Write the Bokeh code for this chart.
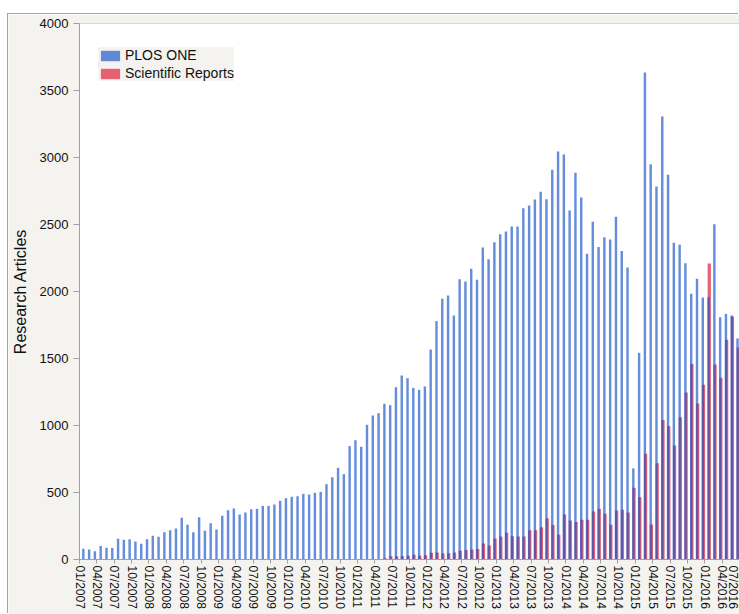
from bokeh.plotting import figure
from bokeh.models import Range1d, FixedTicker, Legend, LegendItem, Span, Spacer, ColumnDataSource
from bokeh.layouts import column, row
from bokeh.transform import dodge
from bokeh.embed import file_html
from bokeh.resources import INLINE

# Monthly research articles, 01/2007 .. 06/2016
plos_one = [80, 75, 62, 100, 87, 85, 154, 147, 152, 134, 117, 152,
            177, 169, 204, 219, 231, 311, 259, 204, 316, 214, 271, 224,
            326, 368, 381, 336, 351, 375, 378, 400, 400, 410, 438, 458,
            468, 472, 490, 485, 498, 505, 562, 614, 684, 637, 846, 890,
            841, 1005, 1075, 1092, 1162, 1152, 1286, 1373, 1353, 1281, 1266, 1291,
            1567, 1779, 1945, 1970, 1821, 2092, 2075, 2169, 2087, 2328, 2241, 2368,
            2428, 2448, 2485, 2485, 2622, 2642, 2687, 2744, 2689, 2908, 3045, 3022,
            2604, 2886, 2701, 2281, 2520, 2333, 2405, 2388, 2557, 2303, 2179, 680,
            1542, 3634, 2950, 2784, 3306, 2871, 2363, 2348, 2211, 1983, 2095, 1955,
            1958, 2502, 1808, 1833, 1821, 1650]
sci_reports = [0] * 52 + [10, 25, 25, 25, 28, 35, 28, 32,
               50, 52, 45, 47, 52, 65, 70, 75, 78, 119, 105, 157,
               172, 199, 174, 172, 172, 219, 219, 241, 308, 258, 184, 336,
               291, 279, 296, 296, 358, 378, 341, 259, 366, 371, 351, 535,
               465, 789, 261, 719, 1042, 995, 851, 1062, 1246, 1460, 1164, 1304,
               2209, 1455, 1356, 1640, 1813, 1582]

start_year = 2007
month_labels = ["%02d/%d" % (i % 12 + 1, start_year + i // 12) for i in range(120)]
tick_positions = list(range(0, 115, 3))
y_ticks = list(range(0, 4001, 500))

BLUE = "#1450c8"
RED = "#e1465a"
PANEL = "#f4f3ef"
FONT = "Liberation Sans"

src = ColumnDataSource(dict(m=list(range(len(plos_one))), plos=plos_one,
                            sr=sci_reports[:len(plos_one)]))

p = figure(width=731, height=600, x_range=Range1d(0, 114.0), y_range=Range1d(0, 4000),
           output_backend="svg", toolbar_location=None,
           min_border_left=71, min_border_right=0, min_border_top=9, min_border_bottom=55,
           border_fill_color=PANEL, background_fill_color="white")
p.outline_line_color = None
p.grid.visible = False
p.styles = {"box-shadow": "-1px -1px 0 0 #a4a4a4"}

r_sr = p.vbar(x=dodge("m", 0.78, range=p.x_range), top="sr", width=0.56, source=src,
              fill_color=RED, fill_alpha=0.85, line_color=None)
r_plos = p.vbar(x=dodge("m", 0.66, range=p.x_range), top="plos", width=0.42, source=src,
                fill_color=BLUE, fill_alpha=0.65, line_color=None)

p.add_layout(Span(location=4000, dimension="width", line_color="#b4b4b4", line_width=1))

legend = Legend(items=[LegendItem(label="PLOS ONE", renderers=[r_plos]),
                       LegendItem(label="Scientific Reports", renderers=[r_sr])],
                location=(19, 478), background_fill_color=PANEL, background_fill_alpha=1.0,
                border_line_color=None, padding=8, spacing=2, margin=0,
                glyph_width=24, glyph_height=13, label_height=13, label_standoff=3,
                label_text_font=FONT, label_text_font_size="14px", label_text_color="#111111")
p.add_layout(legend, "center")

xa = p.xaxis[0]
xa.ticker = FixedTicker(ticks=tick_positions)
xa.major_label_overrides = {t: month_labels[t] for t in tick_positions}
xa.major_label_orientation = "vertical"
xa.major_label_text_font = FONT
xa.major_label_text_font_size = "12px"
xa.major_label_text_color = "#111111"
xa.major_tick_out = 4
xa.major_tick_in = 0
xa.minor_tick_out = 0
xa.minor_tick_in = 0
xa.major_label_standoff = 2
xa.axis_line_color = "#a0a0a0"
xa.major_tick_line_color = "#a0a0a0"

ya = p.yaxis[0]
ya.ticker = FixedTicker(ticks=y_ticks)
ya.major_label_text_font = FONT
ya.major_label_text_font_size = "13px"
ya.major_label_text_color = "#111111"
ya.major_tick_out = 6
ya.major_tick_in = 0
ya.minor_tick_out = 0
ya.minor_tick_in = 0
ya.major_label_standoff = 5
ya.axis_line_color = "#a0a0a0"
ya.major_tick_line_color = "#a0a0a0"
ya.axis_label = "Research Articles"
ya.axis_label_text_font = FONT
ya.axis_label_text_font_size = "16px"
ya.axis_label_text_font_style = "normal"
ya.axis_label_text_color = "#111111"
ya.axis_label_standoff = 8

layout = column(Spacer(width=739, height=14),
                row(Spacer(width=8, height=600), p, spacing=0), spacing=0)
open("out.html", "w").write(file_html(layout, INLINE))
